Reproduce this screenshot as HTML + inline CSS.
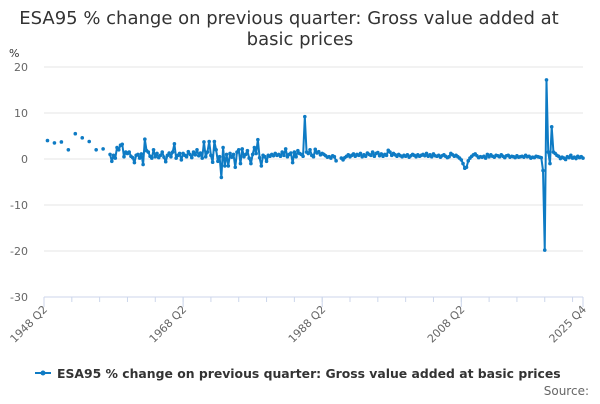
<!DOCTYPE html>
<html><head><meta charset="utf-8"><style>
body{margin:0;width:600px;height:400px;background:#fff;font-family:"DejaVu Sans",sans-serif;overflow:hidden}
</style></head><body>
<svg id="c" width="600" height="400" xmlns="http://www.w3.org/2000/svg" font-family="DejaVu Sans, sans-serif">
<text x="289" y="24" text-anchor="middle" font-size="18" fill="#333">ESA95 % change on previous quarter: Gross value added at</text>
<text x="300" y="45" text-anchor="middle" font-size="18" fill="#333">basic prices</text>
<text x="9" y="57" font-size="11" fill="#333">%</text>
<g id="grid"></g><g id="series"></g>
<g>
<line x1="35" y1="373" x2="51" y2="373" stroke="#0e7bc4" stroke-width="2"/>
<circle cx="43" cy="373" r="2.5" fill="#0e7bc4"/>
<text x="57" y="378" font-size="12.4" font-weight="bold" fill="#333">ESA95 % change on previous quarter: Gross value added at basic prices</text>
</g>
<text x="589" y="395" text-anchor="end" font-size="12" fill="#666">Source:</text>
</svg>
<script>
const yTicks=[20,10,0,-10,-20,-30];
const xTickIdx=[0,80,160,240,310];
const xTickLabels=["1948 Q2","1968 Q2","1988 Q2","2008 Q2","2025 Q4"];
const values=[null,null,4,null,null,null,3.5,null,null,null,3.7,null,null,null,2,null,null,null,5.5,null,null,null,4.6,null,null,null,3.8,null,null,null,2,null,null,null,2.2,null,null,null,
1,-0.5,0.8,0.2,2.5,2,3,3.2,0.5,1.5,
1.2,1.5,0.6,0.3,-0.8,0.8,1,0.2,1.1,-1.2,
4.3,1.8,1.5,0.6,0.2,2,0.5,1.2,0.3,0.8,
1.5,0.4,-0.6,0.8,1.3,0.5,1.5,3.3,0.2,0.8,
1.2,-0.2,1.2,0.8,0.5,1.6,1,0.3,1.5,0.9,
2,0.7,1.3,0.2,3.7,0.5,1.5,3.8,0.8,-0.7,
3.8,2,-0.5,0.5,-4,2.5,-1.5,1,-1.5,1.2,
0.4,1,-1.8,1.5,2,-1,2.2,0.5,1,1.8,
0.2,-1,1,2.5,1.2,4.2,0.3,-1.5,0.8,0.5,
-0.5,0.8,0.6,1,0.7,1.2,0.8,1,0.6,1.5,
0.8,2.2,0.5,1,1.3,-0.8,1.5,0.5,1.8,1.2,
1,0.6,9.2,1.5,1.2,2,0.8,0.5,2.1,1.3,
1.6,0.9,1.2,1,0.7,0.4,0.5,0.2,0.7,0.5,
-0.4,null,null,0.2,-0.2,0.3,0.6,0.9,0.5,0.8,
1.1,0.6,1,0.8,1.2,0.5,0.9,0.6,1.3,1,
0.8,1.5,0.6,1.2,1.4,0.7,1.1,0.6,1,0.8,
1.9,1.5,0.8,1.2,0.9,0.6,1,0.7,0.5,0.8,
0.6,0.9,0.4,0.7,1,0.8,0.5,0.9,0.6,0.8,
1,0.7,1.2,0.6,0.9,0.5,1.1,0.7,0.6,0.8,
0.4,0.7,0.9,0.6,0.3,0.5,1.2,0.9,0.6,0.8,
0.5,0.2,-0.2,-1,-2,-1.8,-0.4,0.2,0.6,0.9,
1.1,0.7,0.3,0.5,0.4,0.6,0.2,1,0.5,0.9,
0.6,0.4,0.8,0.7,0.5,0.9,0.6,0.3,0.7,0.8,
0.4,0.6,0.5,0.3,0.7,0.4,0.5,0.6,0.4,0.8,
0.5,0.6,0.2,0.4,0.3,0.6,0.5,0.4,0.3,-2.5,
-19.8,17.2,1.5,-1,7,1.5,1.2,0.8,0.6,0.1,
0.4,0.2,-0.1,0.5,0.3,0.8,0.2,0.4,0.1,0.6,
0.3,0.5,0.2];
const NS="http://www.w3.org/2000/svg";
const X0=44,X1=583,N=310;
const xs=i=>X0+(X1-X0)*i/N;
const ys=v=>159-v*4.6;
function mk(t,a,p){const e=document.createElementNS(NS,t);for(const k in a)e.setAttribute(k,a[k]);p.appendChild(e);return e;}
const g=document.getElementById('grid');
yTicks.forEach(t=>{
 const l=mk('line',{x1:X0,x2:X1,y1:ys(t),y2:ys(t),stroke:t===-30?'#ccd6eb':'#e6e6e6','stroke-width':1},g);
 
 
 const tx=mk('text',{x:28,y:ys(t)+4,'text-anchor':'end','font-size':11,fill:'#666'},g);
 tx.textContent=t;
 
 
});
for(let i=0;i<=N;i+=16){mk('line',{x1:xs(i),x2:xs(i),y1:297,y2:302,stroke:'#ccd6eb'},g);}
xTickIdx.forEach((i,k)=>{
 mk('line',{x1:xs(i),x2:xs(i),y1:297,y2:307,stroke:'#ccd6eb'},g);
 const tx=mk('text',{x:xs(i)+4,y:310,'text-anchor':'end','font-size':11,fill:'#666',transform:`rotate(-45 ${xs(i)+4} 310)`},g);
 tx.textContent=xTickLabels[k];
 
 
});
const s=document.getElementById('series');
let d='',pen=false;
values.forEach((v,i)=>{if(v===null){pen=false;return;}d+=(pen?'L':'M')+xs(i).toFixed(2)+' '+ys(v).toFixed(2);pen=true;});
const p=mk('path',{d:d,fill:'none',stroke:'#0e7bc4','stroke-width':2,'stroke-linejoin':'round'},s);


values.forEach((v,i)=>{if(v===null)return;
 const c=mk('circle',{cx:xs(i),cy:ys(v),r:1.8,fill:'#0e7bc4'},s);
 
 
});
</script>
</body></html>
